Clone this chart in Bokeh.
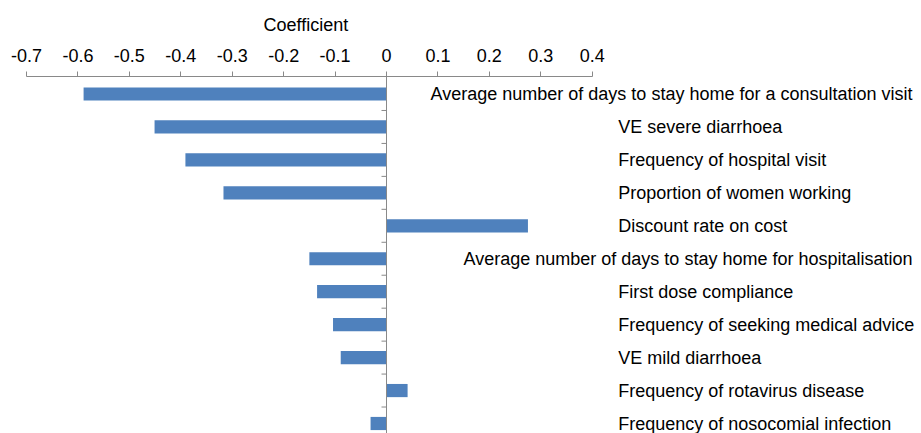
from bokeh.plotting import figure
from bokeh.models import Range1d, FixedTicker, Span
from bokeh.core.properties import value
from bokeh.embed import file_html
from bokeh.resources import INLINE

# ---- data ----
categories = [
    "Average number of days to stay home for a consultation visit",
    "VE severe diarrhoea",
    "Frequency of hospital visit",
    "Proportion of women working",
    "Discount rate on cost",
    "Average number of days to stay home for hospitalisation",
    "First dose compliance",
    "Frequency of seeking medical advice",
    "VE mild diarrhoea",
    "Frequency of rotavirus disease",
    "Frequency of nosocomial infection",
]
coefficients = [-0.589, -0.451, -0.391, -0.317, 0.275, -0.150, -0.135, -0.104, -0.089, 0.041, -0.031]
tick_values = [-0.7, -0.6, -0.5, -0.4, -0.3, -0.2, -0.1, 0.0, 0.1, 0.2, 0.3, 0.4]
tick_labels = ["-0.7", "-0.6", "-0.5", "-0.4", "-0.3", "-0.2", "-0.1", "0", "0.1", "0.2", "0.3", "0.4"]
axis_title = "Coefficient"

# ---- layout / style ----
W, H = 916, 433
PX = 514.3            # pixels per coefficient unit
AXIS_LEFT_PX = 26     # pixel position of first tick
TOP = 76              # frame top (x axis line)
SLOT = 32.95          # pixels per category
FIRST_CENTER = 93.5   # pixel centre of first bar
LABEL_LEFT_PX = 617.7
LABEL_RIGHT_PX = 912
FONT = "Liberation Sans"
FS = "18px"
BAR = "#4f81bd"
AXIS = "#898989"

n = len(categories)
ypos = list(range(n))
x_start = tick_values[0] - AXIS_LEFT_PX / PX
x_end = x_start + W / PX
y_top = -(FIRST_CENTER - TOP) / SLOT
y_bottom = y_top + (H - TOP) / SLOT

p = figure(width=W, height=H, x_range=Range1d(x_start, x_end),
           y_range=Range1d(y_bottom, y_top),
           x_axis_location="above", y_axis_location=None,
           output_backend="svg", toolbar_location=None,
           min_border_left=0, min_border_right=0, min_border_bottom=0,
           min_border_top=TOP)
p.outline_line_color = None
p.xgrid.visible = False
p.ygrid.visible = False
p.background_fill_color = "white"

p.title.text = axis_title
p.title.align = "left"
p.title.offset = 263
p.title.text_font = FONT
p.title.text_font_size = FS
p.title.text_font_style = "normal"
p.title.text_color = "black"
p.title.standoff = 22

p.hbar(y=ypos, left=0, right=coefficients, height=0.4,
       fill_color=BAR, line_color=None)

ax = p.xaxis[0]
ax.ticker = FixedTicker(ticks=tick_values, minor_ticks=[])
ax.bounds = (tick_values[0], tick_values[-1])
ax.major_label_overrides = dict(zip(tick_values, tick_labels))
ax.axis_line_color = AXIS
ax.major_tick_line_color = AXIS
ax.major_tick_out = 5
ax.major_tick_in = 0
ax.minor_tick_line_color = None
ax.major_label_standoff = 10
ax.major_label_text_font = FONT
ax.major_label_text_font_size = FS
ax.major_label_text_color = "black"

# vertical axis at zero
p.add_layout(Span(location=0, dimension="height", line_color=AXIS, line_width=1))
bounds = [i + 0.5 for i in range(n)]
p.segment(x0=[-5 / PX] * n, x1=[0] * n, y0=bounds, y1=bounds, line_color=AXIS, line_width=1)

# category labels
short_idx = [i for i, c in enumerate(categories) if len(c) <= 40]
long_idx = [i for i, c in enumerate(categories) if len(c) > 40]
p.text(x=[x_start + LABEL_LEFT_PX / PX] * len(short_idx), y=[ypos[i] for i in short_idx],
       text=[categories[i] for i in short_idx], text_align="left", text_baseline="middle",
       text_font=value(FONT), text_font_size=FS, text_color="black")
p.text(x=[x_start + LABEL_RIGHT_PX / PX] * len(long_idx), y=[ypos[i] for i in long_idx],
       text=[categories[i] for i in long_idx], text_align="right", text_baseline="middle",
       text_font=value(FONT), text_font_size=FS, text_color="black")

open("out.html", "w").write(file_html(p, INLINE))
